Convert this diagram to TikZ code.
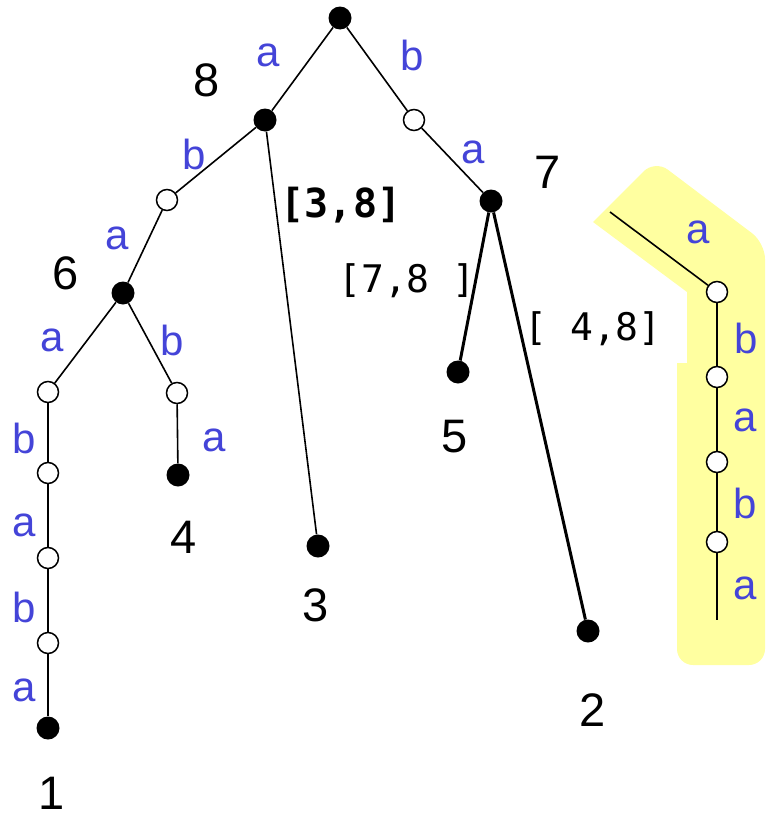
\documentclass[tikz,border=0pt]{standalone}
\usepackage{fontspec}
\setmainfont{Liberation Sans}
\setmonofont{DejaVu Sans Mono}
\usepackage{tikz}
\definecolor{letterblue}{RGB}{68,68,216}
\definecolor{marker}{RGB}{255,255,160}

\begin{document}
\begin{tikzpicture}[x=1pt, y=-1pt,
    full/.style={circle, fill=black, inner sep=0pt, minimum size=23pt},
    hollow/.style={circle, draw=black, fill=white, line width=1.5pt, inner sep=0pt, minimum size=21pt},
    lbl/.style={text=letterblue, font=\fontsize{42}{42}\selectfont, inner sep=0pt},
    num/.style={font=\fontsize{47}{47}\selectfont, inner sep=0pt},
    intv/.style={font=\ttfamily\fontsize{38}{38}\selectfont, inner sep=0pt},
    link/.style={line width=1.6pt},
    heavy/.style={line width=3pt}]

\useasboundingbox (0,0) rectangle (766,819);

% --- HIGHLIGHTED BRANCH (yellow band) ---
\fill[marker, rounded corners=16pt] (593,222) -- (655,160) -- (765,243) -- (765,665)
    -- (677,665) [sharp corners] -- (677,363) -- (687,363) -- (687,292) -- cycle;

% --- TREE NODES ---
\node[full]   (root)  at (340,18)  {};
\node[full]   (n8)    at (265,120) {};
\node[hollow] (rb)    at (414,120) {};
\node[full]   (n7)    at (491,201) {};
\node[hollow] (lb)    at (167,200) {};
\node[full]   (n6)    at (123,293) {};
\node[hollow] (la)    at (48,392)  {};
\node[hollow] (lbb)   at (177,393) {};
\node[full]   (leaf4) at (178,475) {};
\node[hollow] (la2)   at (48,473)  {};
\node[hollow] (la3)   at (48,558)  {};
\node[hollow] (la4)   at (48,643)  {};
\node[full]   (leaf1) at (48,728)  {};
\node[full]   (leaf3) at (318,546) {};
\node[full]   (leaf5) at (458,372) {};
\node[full]   (leaf2) at (588,631) {};

% --- EDGES ---
\draw[link] (root) -- (n8);
\draw[link] (root) -- (rb);
\draw[link] (rb) -- (n7);
\draw[link] (n8) -- (lb);
\draw[link] (lb) -- (n6);
\draw[link] (n6) -- (la);
\draw[link] (n6) -- (lbb);
\draw[link] (lbb) -- (leaf4);
\draw[link] (la) -- (la2);
\draw[link] (la2) -- (la3);
\draw[link] (la3) -- (la4);
\draw[link] (la4) -- (leaf1);
\draw[link] (n8) -- (leaf3);
\draw[heavy] (n7) -- (leaf5);
\draw[heavy] (n7) -- (leaf2);

% --- EDGE LETTERS ---
\node[lbl] (t1)  at (268,55)  {a};
\node[lbl] (t2)  at (412,55)  {b};
\node[lbl] (t3)  at (194,154) {b};
\node[lbl] (t4)  at (473,152) {a};
\node[lbl] (t5)  at (117,238) {a};
\node[lbl] (t6)  at (52,340)  {a};
\node[lbl] (t7)  at (172,340) {b};
\node[lbl] (t8)  at (24,438)  {b};
\node[lbl] (t9)  at (214,440) {a};
\node[lbl] (t10) at (24,525)  {a};
\node[lbl] (t11) at (24,607)  {b};
\node[lbl] (t12) at (24,690)  {a};

% --- LEAF AND BRANCH NUMBERS ---
\node[num] (s8) at (207,80)  {8};
\node[num] (s7) at (548,172) {7};
\node[num] (s6) at (66,273)  {6};
\node[num] (s4) at (184,537) {4};
\node[num] (s1) at (52,793)  {1};
\node[num] (s3) at (316,605) {3};
\node[num] (s5) at (455,437) {5};
\node[num] (s2) at (593,710) {2};

% --- INTERVALS ---
\node[intv, font=\ttfamily\bfseries\fontsize{40}{40}\selectfont] (i38) at (341,205) {[3,8]};
\node[intv] (i78) at (407,281) {[7,8 ]};
\node[intv] (i48) at (593,329) {[ 4,8]};

% --- SEPARATE BRANCH ---
\coordinate (c0) at (610,212);
\node[hollow] (c1) at (717,292) {};
\node[hollow] (c2) at (717,377) {};
\node[hollow] (c3) at (717,462) {};
\node[hollow] (c4) at (717,542) {};
\coordinate (c5) at (717,620);
\draw[link] (c0) -- (c1);
\draw[link] (c1) -- (c2);
\draw[link] (c2) -- (c3);
\draw[link] (c3) -- (c4);
\draw[link] (c4) -- (c5);
\node[lbl] (r1) at (698,232) {a};
\node[lbl] (r2) at (746,338) {b};
\node[lbl] (r3) at (745,420) {a};
\node[lbl] (r4) at (745,503) {b};
\node[lbl] (r5) at (745,588) {a};

\end{tikzpicture}
\end{document}
